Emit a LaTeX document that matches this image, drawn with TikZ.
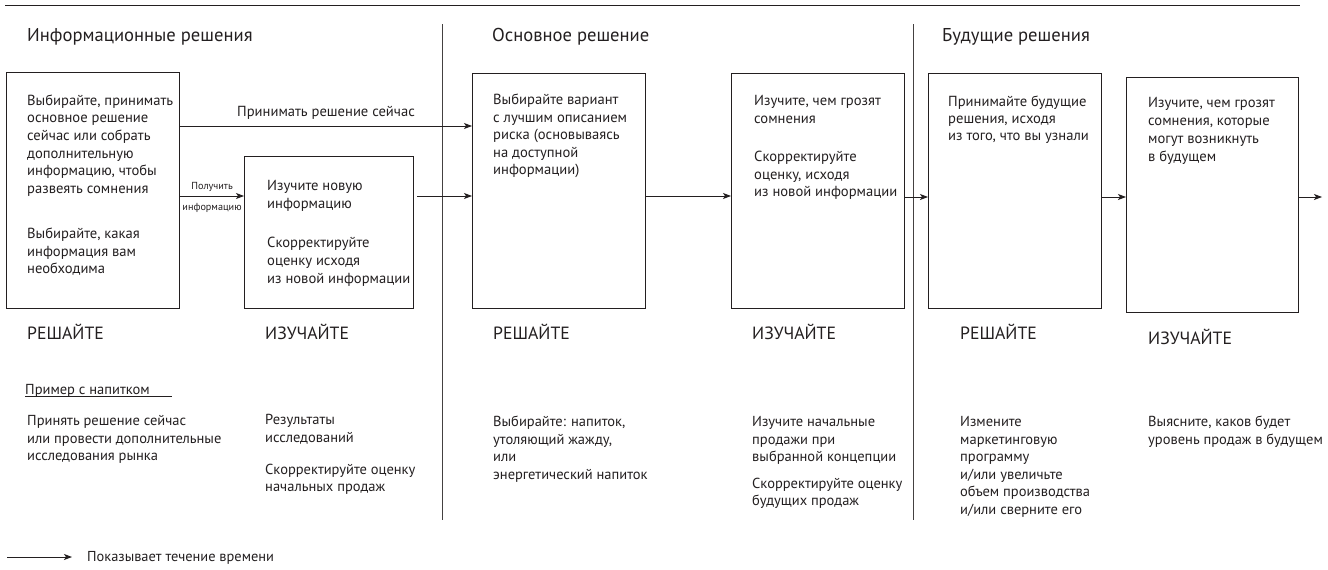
\documentclass[tikz,border=0pt]{standalone}
\usepackage{fontspec}
\setmainfont{PT Sans}
\usetikzlibrary{arrows.meta}
\newcommand\tb[1]{\begin{tabular}[t]{@{}l@{}}#1\end{tabular}}
\definecolor{ink}{HTML}{231F20}
\tikzset{
  box/.style={draw=ink, line width=1.1pt, anchor=north west, inner sep=0pt},
  arr/.style={draw=ink, line width=0.9pt, -{Stealth[length=8pt,width=6pt,inset=2pt]}},
  txt/.style={anchor=base west, inner sep=0pt, text=ink, font=\fontsize{14.6}{17.6}\selectfont},
  btxt/.style={anchor=base west, inner sep=0pt, text=ink, font=\fontsize{14.5}{17.6}\selectfont},
  head/.style={anchor=base west, inner sep=0pt, text=ink, font=\fontsize{18.6}{22}\selectfont},
  lab/.style={anchor=base west, inner sep=0pt, text=ink, font=\fontsize{17.7}{21}\selectfont},
  small/.style={anchor=base, inner sep=0pt, text=ink, font=\fontsize{10.2}{12}\selectfont},
  divider/.style={draw=ink!85, line width=0.9pt}
}
\begin{document}
\begin{tikzpicture}[x=1pt,y=-1pt]
\useasboundingbox (0,0) rectangle (1328,570);
% top rule and dividers
\draw[ink, line width=1.2pt] (5,5.5) -- (1300,5.5);
\draw[divider] (442,24) -- (442,520);
\draw[divider] (913,24) -- (913,520);
% headings
\node[head] (h1) at (27,41) {Информационные решения};
\node[head] (h2) at (492,41) {Основное решение};
\node[head] (h3) at (942,41) {Будущие решения};
% boxes
\node[box, minimum width=173.5pt, minimum height=236pt] (B1) at (5.5,72) {};
\node[box, minimum width=169pt, minimum height=152pt] (B2) at (244,156) {};
\node[box, minimum width=173pt, minimum height=235pt] (B3) at (472,73) {};
\node[box, minimum width=173pt, minimum height=235pt] (B4) at (731,73) {};
\node[box, minimum width=173pt, minimum height=235pt] (B5) at (928,73) {};
\node[box, minimum width=172pt, minimum height=235pt] (B6) at (1126,77) {};
% box texts
\node[txt] (t1) at (27,105.3) {\tb{Выбирайте, принимать\\ основное решение\\ сейчас или собрать\\ дополнительную\\ информацию, чтобы\\ развеять сомнения\\[27.7pt] Выбирайте, какая\\ информация вам\\ необходима}};
\node[txt, font=\fontsize{14.6}{18}\selectfont] (t2) at (267,190.6) {\tb{Изучите новую\\ информацию\\[21pt] Скорректируйте\\ оценку исходя\\ из новой информации}};
\node[txt, font=\fontsize{14.6}{17.5}\selectfont] (t3) at (493,104.6) {\tb{Выбирайте вариант\\ с лучшим описанием\\ риска (основываясь\\ на доступной\\ информации)}};
\node[txt, font=\fontsize{14.6}{17.5}\selectfont] (t4) at (754,105.6) {\tb{Изучите, чем грозят\\ сомнения\\[21pt] Скорректируйте\\ оценку, исходя\\ из новой информации}};
\node[txt, font=\fontsize{14.6}{17}\selectfont] (t5) at (948,106.6) {\tb{Принимайте будущие\\ решения, исходя\\ из того, что вы узнали}};
\node[txt, font=\fontsize{14.6}{18}\selectfont] (t6) at (1148,107.6) {\tb{Изучите, чем грозят\\ сомнения, которые\\ могут возникнуть\\ в будущем}};
% arrows
\coordinate (ya) at (0,126);
\coordinate (yb) at (0,196);
\coordinate (yc) at (0,197);
\coordinate (endp) at (1322,197);
\draw[arr] (B1.east |- ya) -- node[txt, anchor=base, yshift=9.4pt] (lbl1) {Принимать решение сейчас} (B3.west |- ya);
\draw[arr] (B1.east |- yb) -- node[small, yshift=7pt] (lbl2) {Получить} node[small, yshift=-14pt] (lbl3) {информацию} (B2.west |- yb);
\draw[arr, shorten <=3pt] (B2.east |- yb) -- (B3.west |- yb);
\draw[arr] (B3.east |- yb) -- (B4.west |- yb);
\draw[arr] (B4.east |- yc) -- (B5.west |- yc);
\draw[arr] (B5.east |- yc) -- (B6.west |- yc);
\draw[arr] (B6.east |- yc) -- (endp);
% stage labels
\node[lab] (r1) at (27,339) {РЕШАЙТЕ};
\node[lab] (i1) at (265,339) {ИЗУЧАЙТЕ};
\node[lab] (r2) at (493,339) {РЕШАЙТЕ};
\node[lab] (i2) at (752,339) {ИЗУЧАЙТЕ};
\node[lab] (r3) at (960,339) {РЕШАЙТЕ};
\node[lab] (i3) at (1148,344) {ИЗУЧАЙТЕ};
% example
\node[btxt] (ex) at (25,394.5) {Пример с напитком};
\draw[ink, line width=0.8pt] ([yshift=-1.8pt]ex.base west) -- ++(147,0);
\node[btxt] (c1) at (27,425.5) {\tb{Принять решение сейчас\\ или провести дополнительные\\ исследования рынка}};
\node[btxt] (c2) at (265,424.5) {\tb{Результаты\\ исследований\\[14.5pt] Скорректируйте оценку\\ начальных продаж}};
\node[btxt] (c3) at (493,426.5) {\tb{Выбирайте: напиток,\\ утоляющий жажду,\\ или\\ энергетический напиток}};
\node[btxt] (c4) at (752,426.5) {\tb{Изучите начальные\\ продажи при\\ выбранной концепции\\[9pt] Скорректируйте оценку\\ будущих продаж}};
\node[btxt] (c5) at (960,426.5) {\tb{Измените\\ маркетинговую\\ программу\\ и/или увеличьте\\ объем производства\\ и/или сверните его}};
\node[btxt] (c6) at (1148,426.5) {\tb{Выясните, каков будет\\ уровень продаж в будущем}};
% legend
\coordinate (l0) at (7,557);
\coordinate (l1) at (72,557);
\draw[arr] (l0) -- (l1);
\node[btxt, font=\fontsize{14.4}{17}\selectfont] (leg) at (87,561.5) {Показывает течение времени};
\end{tikzpicture}
\end{document}
